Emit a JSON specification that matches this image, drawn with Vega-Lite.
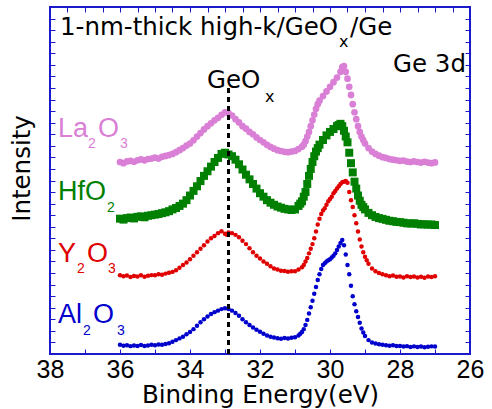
{
  "$schema": "https://vega.github.io/schema/vega-lite/v6.json",
  "width": 420,
  "height": 347,
  "autosize": {"type": "none"},
  "padding": {"left": 50, "top": 7, "right": 22, "bottom": 55},
  "background": "white",
  "config": {
    "view": {"stroke": "#1A1ACC", "strokeWidth": 2},
    "axis": {"domain": false, "grid": false, "tickColor": "#1A1ACC", "tickWidth": 1, "tickSize": -5}
  },
  "datasets": {
    "spectra": [
      {"s":"La2O3","e":36.0,"v":16.6},{"s":"La2O3","e":35.9,"v":16.5},{"s":"La2O3","e":35.8,"v":16.65},{"s":"La2O3","e":35.7,"v":16.7},{"s":"La2O3","e":35.6,"v":16.62},{"s":"La2O3","e":35.5,"v":16.75},{"s":"La2O3","e":35.4,"v":16.82},{"s":"La2O3","e":35.3,"v":16.74},{"s":"La2O3","e":35.2,"v":16.86},{"s":"La2O3","e":35.1,"v":16.9},{"s":"La2O3","e":35.0,"v":16.97},{"s":"La2O3","e":34.9,"v":16.9},{"s":"La2O3","e":34.8,"v":17.05},{"s":"La2O3","e":34.7,"v":17.12},{"s":"La2O3","e":34.6,"v":17.2},{"s":"La2O3","e":34.5,"v":17.3},{"s":"La2O3","e":34.4,"v":17.45},{"s":"La2O3","e":34.3,"v":17.62},{"s":"La2O3","e":34.2,"v":17.8},{"s":"La2O3","e":34.1,"v":18.02},{"s":"La2O3","e":34.0,"v":18.2},{"s":"La2O3","e":33.9,"v":18.48},{"s":"La2O3","e":33.8,"v":18.8},{"s":"La2O3","e":33.7,"v":19.1},{"s":"La2O3","e":33.6,"v":19.42},{"s":"La2O3","e":33.5,"v":19.7},{"s":"La2O3","e":33.4,"v":19.95},{"s":"La2O3","e":33.3,"v":20.2},{"s":"La2O3","e":33.2,"v":20.42},{"s":"La2O3","e":33.1,"v":20.68},{"s":"La2O3","e":33.0,"v":20.9},{"s":"La2O3","e":32.9,"v":20.82},{"s":"La2O3","e":32.8,"v":20.62},{"s":"La2O3","e":32.7,"v":20.3},{"s":"La2O3","e":32.6,"v":20.02},{"s":"La2O3","e":32.5,"v":19.7},{"s":"La2O3","e":32.4,"v":19.48},{"s":"La2O3","e":32.3,"v":19.2},{"s":"La2O3","e":32.2,"v":19.0},{"s":"La2O3","e":32.1,"v":18.72},{"s":"La2O3","e":32.0,"v":18.5},{"s":"La2O3","e":31.9,"v":18.3},{"s":"La2O3","e":31.8,"v":18.08},{"s":"La2O3","e":31.7,"v":17.9},{"s":"La2O3","e":31.6,"v":17.75},{"s":"La2O3","e":31.5,"v":17.62},{"s":"La2O3","e":31.4,"v":17.55},{"s":"La2O3","e":31.3,"v":17.48},{"s":"La2O3","e":31.2,"v":17.45},{"s":"La2O3","e":31.1,"v":17.5},{"s":"La2O3","e":31.0,"v":17.56},{"s":"La2O3","e":30.9,"v":17.72},{"s":"La2O3","e":30.8,"v":17.92},{"s":"La2O3","e":30.75,"v":18.1},{"s":"La2O3","e":30.7,"v":18.4},{"s":"La2O3","e":30.65,"v":18.8},{"s":"La2O3","e":30.6,"v":19.2},{"s":"La2O3","e":30.55,"v":19.7},{"s":"La2O3","e":30.5,"v":20.2},{"s":"La2O3","e":30.45,"v":20.7},{"s":"La2O3","e":30.4,"v":21.2},{"s":"La2O3","e":30.35,"v":21.6},{"s":"La2O3","e":30.3,"v":21.9},{"s":"La2O3","e":30.2,"v":22.3},{"s":"La2O3","e":30.1,"v":22.7},{"s":"La2O3","e":30.0,"v":23.1},{"s":"La2O3","e":29.9,"v":23.5},{"s":"La2O3","e":29.8,"v":23.9},{"s":"La2O3","e":29.7,"v":24.4},{"s":"La2O3","e":29.65,"v":24.8},{"s":"La2O3","e":29.6,"v":24.9},{"s":"La2O3","e":29.55,"v":24.4},{"s":"La2O3","e":29.5,"v":23.8},{"s":"La2O3","e":29.45,"v":23.1},{"s":"La2O3","e":29.4,"v":22.4},{"s":"La2O3","e":29.35,"v":21.6},{"s":"La2O3","e":29.3,"v":20.9},{"s":"La2O3","e":29.25,"v":20.3},{"s":"La2O3","e":29.2,"v":19.7},{"s":"La2O3","e":29.15,"v":19.2},{"s":"La2O3","e":29.1,"v":18.8},{"s":"La2O3","e":29.05,"v":18.5},{"s":"La2O3","e":29.0,"v":18.2},{"s":"La2O3","e":28.9,"v":17.8},{"s":"La2O3","e":28.8,"v":17.5},{"s":"La2O3","e":28.7,"v":17.3},{"s":"La2O3","e":28.6,"v":17.15},{"s":"La2O3","e":28.5,"v":17.02},{"s":"La2O3","e":28.4,"v":16.95},{"s":"La2O3","e":28.3,"v":16.85},{"s":"La2O3","e":28.2,"v":16.8},{"s":"La2O3","e":28.1,"v":16.75},{"s":"La2O3","e":28.0,"v":16.7},{"s":"La2O3","e":27.9,"v":16.72},{"s":"La2O3","e":27.8,"v":16.64},{"s":"La2O3","e":27.7,"v":16.6},{"s":"La2O3","e":27.6,"v":16.66},{"s":"La2O3","e":27.5,"v":16.6},{"s":"La2O3","e":27.4,"v":16.55},{"s":"La2O3","e":27.3,"v":16.62},{"s":"La2O3","e":27.2,"v":16.55},{"s":"La2O3","e":27.1,"v":16.5},{"s":"La2O3","e":27.0,"v":16.56},
      {"s":"HfO2","e":36.0,"v":11.7},{"s":"HfO2","e":35.9,"v":11.62},{"s":"HfO2","e":35.8,"v":11.75},{"s":"HfO2","e":35.7,"v":11.8},{"s":"HfO2","e":35.6,"v":11.72},{"s":"HfO2","e":35.5,"v":11.86},{"s":"HfO2","e":35.4,"v":11.9},{"s":"HfO2","e":35.3,"v":11.82},{"s":"HfO2","e":35.2,"v":11.95},{"s":"HfO2","e":35.1,"v":12.0},{"s":"HfO2","e":35.0,"v":12.05},{"s":"HfO2","e":34.9,"v":12.1},{"s":"HfO2","e":34.8,"v":12.18},{"s":"HfO2","e":34.7,"v":12.25},{"s":"HfO2","e":34.6,"v":12.35},{"s":"HfO2","e":34.5,"v":12.5},{"s":"HfO2","e":34.4,"v":12.62},{"s":"HfO2","e":34.3,"v":12.8},{"s":"HfO2","e":34.2,"v":13.0},{"s":"HfO2","e":34.1,"v":13.3},{"s":"HfO2","e":34.0,"v":13.7},{"s":"HfO2","e":33.9,"v":14.1},{"s":"HfO2","e":33.8,"v":14.5},{"s":"HfO2","e":33.7,"v":14.95},{"s":"HfO2","e":33.6,"v":15.4},{"s":"HfO2","e":33.5,"v":15.8},{"s":"HfO2","e":33.4,"v":16.2},{"s":"HfO2","e":33.3,"v":16.6},{"s":"HfO2","e":33.2,"v":16.95},{"s":"HfO2","e":33.1,"v":17.3},{"s":"HfO2","e":33.0,"v":17.4},{"s":"HfO2","e":32.9,"v":17.25},{"s":"HfO2","e":32.8,"v":17.1},{"s":"HfO2","e":32.7,"v":16.8},{"s":"HfO2","e":32.6,"v":16.4},{"s":"HfO2","e":32.5,"v":15.95},{"s":"HfO2","e":32.4,"v":15.5},{"s":"HfO2","e":32.3,"v":15.1},{"s":"HfO2","e":32.2,"v":14.7},{"s":"HfO2","e":32.1,"v":14.3},{"s":"HfO2","e":32.0,"v":13.9},{"s":"HfO2","e":31.9,"v":13.6},{"s":"HfO2","e":31.8,"v":13.3},{"s":"HfO2","e":31.7,"v":13.08},{"s":"HfO2","e":31.6,"v":12.9},{"s":"HfO2","e":31.5,"v":12.75},{"s":"HfO2","e":31.4,"v":12.65},{"s":"HfO2","e":31.3,"v":12.55},{"s":"HfO2","e":31.2,"v":12.5},{"s":"HfO2","e":31.1,"v":12.45},{"s":"HfO2","e":31.0,"v":12.5},{"s":"HfO2","e":30.9,"v":12.8},{"s":"HfO2","e":30.85,"v":13.0},{"s":"HfO2","e":30.8,"v":13.2},{"s":"HfO2","e":30.75,"v":13.6},{"s":"HfO2","e":30.7,"v":14.0},{"s":"HfO2","e":30.65,"v":14.7},{"s":"HfO2","e":30.6,"v":15.4},{"s":"HfO2","e":30.55,"v":16.0},{"s":"HfO2","e":30.5,"v":16.6},{"s":"HfO2","e":30.45,"v":17.1},{"s":"HfO2","e":30.4,"v":17.5},{"s":"HfO2","e":30.35,"v":17.8},{"s":"HfO2","e":30.3,"v":18.1},{"s":"HfO2","e":30.2,"v":18.5},{"s":"HfO2","e":30.1,"v":18.9},{"s":"HfO2","e":30.0,"v":19.2},{"s":"HfO2","e":29.9,"v":19.45},{"s":"HfO2","e":29.8,"v":19.7},{"s":"HfO2","e":29.75,"v":19.8},{"s":"HfO2","e":29.7,"v":19.9},{"s":"HfO2","e":29.65,"v":19.7},{"s":"HfO2","e":29.6,"v":19.3},{"s":"HfO2","e":29.55,"v":18.8},{"s":"HfO2","e":29.5,"v":18.3},{"s":"HfO2","e":29.45,"v":17.4},{"s":"HfO2","e":29.4,"v":16.5},{"s":"HfO2","e":29.35,"v":15.7},{"s":"HfO2","e":29.3,"v":14.9},{"s":"HfO2","e":29.25,"v":14.3},{"s":"HfO2","e":29.2,"v":13.7},{"s":"HfO2","e":29.15,"v":13.25},{"s":"HfO2","e":29.1,"v":12.9},{"s":"HfO2","e":29.05,"v":12.7},{"s":"HfO2","e":29.0,"v":12.5},{"s":"HfO2","e":28.9,"v":12.2},{"s":"HfO2","e":28.8,"v":12.0},{"s":"HfO2","e":28.7,"v":11.85},{"s":"HfO2","e":28.6,"v":11.75},{"s":"HfO2","e":28.5,"v":11.68},{"s":"HfO2","e":28.4,"v":11.6},{"s":"HfO2","e":28.3,"v":11.52},{"s":"HfO2","e":28.2,"v":11.48},{"s":"HfO2","e":28.1,"v":11.42},{"s":"HfO2","e":28.0,"v":11.4},{"s":"HfO2","e":27.9,"v":11.35},{"s":"HfO2","e":27.8,"v":11.3},{"s":"HfO2","e":27.7,"v":11.28},{"s":"HfO2","e":27.6,"v":11.3},{"s":"HfO2","e":27.5,"v":11.25},{"s":"HfO2","e":27.4,"v":11.2},{"s":"HfO2","e":27.3,"v":11.22},{"s":"HfO2","e":27.2,"v":11.18},{"s":"HfO2","e":27.1,"v":11.2},{"s":"HfO2","e":27.0,"v":11.15},
      {"s":"Y2O3","e":36.0,"v":6.8},{"s":"Y2O3","e":35.9,"v":6.72},{"s":"Y2O3","e":35.8,"v":6.78},{"s":"Y2O3","e":35.7,"v":6.65},{"s":"Y2O3","e":35.6,"v":6.74},{"s":"Y2O3","e":35.5,"v":6.7},{"s":"Y2O3","e":35.4,"v":6.8},{"s":"Y2O3","e":35.3,"v":6.68},{"s":"Y2O3","e":35.2,"v":6.76},{"s":"Y2O3","e":35.1,"v":6.82},{"s":"Y2O3","e":35.0,"v":6.8},{"s":"Y2O3","e":34.9,"v":6.9},{"s":"Y2O3","e":34.8,"v":6.85},{"s":"Y2O3","e":34.7,"v":6.95},{"s":"Y2O3","e":34.6,"v":7.02},{"s":"Y2O3","e":34.5,"v":7.1},{"s":"Y2O3","e":34.4,"v":7.25},{"s":"Y2O3","e":34.3,"v":7.45},{"s":"Y2O3","e":34.2,"v":7.7},{"s":"Y2O3","e":34.1,"v":7.92},{"s":"Y2O3","e":34.0,"v":8.2},{"s":"Y2O3","e":33.9,"v":8.5},{"s":"Y2O3","e":33.8,"v":8.8},{"s":"Y2O3","e":33.7,"v":9.1},{"s":"Y2O3","e":33.6,"v":9.4},{"s":"Y2O3","e":33.5,"v":9.72},{"s":"Y2O3","e":33.4,"v":10.0},{"s":"Y2O3","e":33.3,"v":10.2},{"s":"Y2O3","e":33.2,"v":10.45},{"s":"Y2O3","e":33.1,"v":10.62},{"s":"Y2O3","e":33.0,"v":10.4},{"s":"Y2O3","e":32.95,"v":10.3},{"s":"Y2O3","e":32.9,"v":10.5},{"s":"Y2O3","e":32.8,"v":10.45},{"s":"Y2O3","e":32.7,"v":10.3},{"s":"Y2O3","e":32.6,"v":10.1},{"s":"Y2O3","e":32.5,"v":9.8},{"s":"Y2O3","e":32.4,"v":9.5},{"s":"Y2O3","e":32.3,"v":9.15},{"s":"Y2O3","e":32.2,"v":8.8},{"s":"Y2O3","e":32.1,"v":8.5},{"s":"Y2O3","e":32.0,"v":8.25},{"s":"Y2O3","e":31.9,"v":8.0},{"s":"Y2O3","e":31.8,"v":7.8},{"s":"Y2O3","e":31.7,"v":7.58},{"s":"Y2O3","e":31.6,"v":7.4},{"s":"Y2O3","e":31.5,"v":7.3},{"s":"Y2O3","e":31.4,"v":7.2},{"s":"Y2O3","e":31.3,"v":7.18},{"s":"Y2O3","e":31.2,"v":7.12},{"s":"Y2O3","e":31.1,"v":7.16},{"s":"Y2O3","e":31.0,"v":7.15},{"s":"Y2O3","e":30.9,"v":7.3},{"s":"Y2O3","e":30.8,"v":7.5},{"s":"Y2O3","e":30.75,"v":7.7},{"s":"Y2O3","e":30.7,"v":8.0},{"s":"Y2O3","e":30.65,"v":8.3},{"s":"Y2O3","e":30.6,"v":8.7},{"s":"Y2O3","e":30.55,"v":9.1},{"s":"Y2O3","e":30.5,"v":9.5},{"s":"Y2O3","e":30.45,"v":10.0},{"s":"Y2O3","e":30.4,"v":10.6},{"s":"Y2O3","e":30.35,"v":11.2},{"s":"Y2O3","e":30.3,"v":11.7},{"s":"Y2O3","e":30.25,"v":12.1},{"s":"Y2O3","e":30.2,"v":12.4},{"s":"Y2O3","e":30.15,"v":12.6},{"s":"Y2O3","e":30.1,"v":12.9},{"s":"Y2O3","e":30.05,"v":13.2},{"s":"Y2O3","e":30.0,"v":13.4},{"s":"Y2O3","e":29.95,"v":13.6},{"s":"Y2O3","e":29.9,"v":13.9},{"s":"Y2O3","e":29.85,"v":14.1},{"s":"Y2O3","e":29.8,"v":14.3},{"s":"Y2O3","e":29.75,"v":14.5},{"s":"Y2O3","e":29.7,"v":14.7},{"s":"Y2O3","e":29.65,"v":14.85},{"s":"Y2O3","e":29.6,"v":14.9},{"s":"Y2O3","e":29.55,"v":14.95},{"s":"Y2O3","e":29.5,"v":14.8},{"s":"Y2O3","e":29.45,"v":14.0},{"s":"Y2O3","e":29.4,"v":13.3},{"s":"Y2O3","e":29.35,"v":12.7},{"s":"Y2O3","e":29.3,"v":12.0},{"s":"Y2O3","e":29.25,"v":11.3},{"s":"Y2O3","e":29.2,"v":10.6},{"s":"Y2O3","e":29.15,"v":9.9},{"s":"Y2O3","e":29.1,"v":9.3},{"s":"Y2O3","e":29.05,"v":8.8},{"s":"Y2O3","e":29.0,"v":8.4},{"s":"Y2O3","e":28.95,"v":8.1},{"s":"Y2O3","e":28.9,"v":7.8},{"s":"Y2O3","e":28.8,"v":7.4},{"s":"Y2O3","e":28.7,"v":7.15},{"s":"Y2O3","e":28.6,"v":7.0},{"s":"Y2O3","e":28.5,"v":6.9},{"s":"Y2O3","e":28.4,"v":6.8},{"s":"Y2O3","e":28.3,"v":6.72},{"s":"Y2O3","e":28.2,"v":6.78},{"s":"Y2O3","e":28.1,"v":6.68},{"s":"Y2O3","e":28.0,"v":6.7},{"s":"Y2O3","e":27.9,"v":6.62},{"s":"Y2O3","e":27.8,"v":6.72},{"s":"Y2O3","e":27.7,"v":6.65},{"s":"Y2O3","e":27.6,"v":6.7},{"s":"Y2O3","e":27.5,"v":6.62},{"s":"Y2O3","e":27.4,"v":6.68},{"s":"Y2O3","e":27.3,"v":6.6},{"s":"Y2O3","e":27.2,"v":6.7},{"s":"Y2O3","e":27.1,"v":6.66},{"s":"Y2O3","e":27.0,"v":6.72},
      {"s":"Al2O3","e":36.0,"v":0.8},{"s":"Al2O3","e":35.9,"v":0.72},{"s":"Al2O3","e":35.8,"v":0.76},{"s":"Al2O3","e":35.7,"v":0.68},{"s":"Al2O3","e":35.6,"v":0.74},{"s":"Al2O3","e":35.5,"v":0.7},{"s":"Al2O3","e":35.4,"v":0.78},{"s":"Al2O3","e":35.3,"v":0.7},{"s":"Al2O3","e":35.2,"v":0.74},{"s":"Al2O3","e":35.1,"v":0.8},{"s":"Al2O3","e":35.0,"v":0.75},{"s":"Al2O3","e":34.9,"v":0.82},{"s":"Al2O3","e":34.8,"v":0.8},{"s":"Al2O3","e":34.7,"v":0.86},{"s":"Al2O3","e":34.6,"v":0.92},{"s":"Al2O3","e":34.5,"v":1.05},{"s":"Al2O3","e":34.4,"v":1.2},{"s":"Al2O3","e":34.3,"v":1.35},{"s":"Al2O3","e":34.2,"v":1.5},{"s":"Al2O3","e":34.1,"v":1.7},{"s":"Al2O3","e":34.0,"v":1.9},{"s":"Al2O3","e":33.9,"v":2.15},{"s":"Al2O3","e":33.8,"v":2.45},{"s":"Al2O3","e":33.7,"v":2.75},{"s":"Al2O3","e":33.6,"v":3.0},{"s":"Al2O3","e":33.5,"v":3.25},{"s":"Al2O3","e":33.4,"v":3.45},{"s":"Al2O3","e":33.3,"v":3.62},{"s":"Al2O3","e":33.2,"v":3.75},{"s":"Al2O3","e":33.1,"v":3.88},{"s":"Al2O3","e":33.0,"v":3.95},{"s":"Al2O3","e":32.9,"v":3.9},{"s":"Al2O3","e":32.8,"v":3.75},{"s":"Al2O3","e":32.7,"v":3.55},{"s":"Al2O3","e":32.6,"v":3.3},{"s":"Al2O3","e":32.5,"v":3.0},{"s":"Al2O3","e":32.4,"v":2.75},{"s":"Al2O3","e":32.3,"v":2.5},{"s":"Al2O3","e":32.2,"v":2.3},{"s":"Al2O3","e":32.1,"v":2.1},{"s":"Al2O3","e":32.0,"v":1.92},{"s":"Al2O3","e":31.9,"v":1.75},{"s":"Al2O3","e":31.8,"v":1.6},{"s":"Al2O3","e":31.7,"v":1.5},{"s":"Al2O3","e":31.6,"v":1.42},{"s":"Al2O3","e":31.5,"v":1.36},{"s":"Al2O3","e":31.4,"v":1.32},{"s":"Al2O3","e":31.3,"v":1.38},{"s":"Al2O3","e":31.2,"v":1.34},{"s":"Al2O3","e":31.1,"v":1.4},{"s":"Al2O3","e":31.0,"v":1.45},{"s":"Al2O3","e":30.9,"v":1.6},{"s":"Al2O3","e":30.85,"v":1.75},{"s":"Al2O3","e":30.8,"v":1.9},{"s":"Al2O3","e":30.75,"v":2.15},{"s":"Al2O3","e":30.7,"v":2.5},{"s":"Al2O3","e":30.65,"v":2.95},{"s":"Al2O3","e":30.6,"v":3.5},{"s":"Al2O3","e":30.55,"v":4.05},{"s":"Al2O3","e":30.5,"v":4.6},{"s":"Al2O3","e":30.45,"v":5.2},{"s":"Al2O3","e":30.4,"v":5.8},{"s":"Al2O3","e":30.35,"v":6.4},{"s":"Al2O3","e":30.3,"v":6.9},{"s":"Al2O3","e":30.25,"v":7.35},{"s":"Al2O3","e":30.2,"v":7.7},{"s":"Al2O3","e":30.15,"v":7.85},{"s":"Al2O3","e":30.1,"v":8.0},{"s":"Al2O3","e":30.05,"v":8.1},{"s":"Al2O3","e":30.0,"v":8.2},{"s":"Al2O3","e":29.95,"v":8.35},{"s":"Al2O3","e":29.9,"v":8.5},{"s":"Al2O3","e":29.85,"v":8.7},{"s":"Al2O3","e":29.8,"v":9.0},{"s":"Al2O3","e":29.75,"v":9.3},{"s":"Al2O3","e":29.7,"v":9.6},{"s":"Al2O3","e":29.65,"v":9.85},{"s":"Al2O3","e":29.6,"v":9.4},{"s":"Al2O3","e":29.55,"v":8.6},{"s":"Al2O3","e":29.5,"v":7.7},{"s":"Al2O3","e":29.45,"v":6.9},{"s":"Al2O3","e":29.4,"v":5.9},{"s":"Al2O3","e":29.35,"v":5.0},{"s":"Al2O3","e":29.3,"v":4.3},{"s":"Al2O3","e":29.25,"v":3.7},{"s":"Al2O3","e":29.2,"v":3.2},{"s":"Al2O3","e":29.15,"v":2.7},{"s":"Al2O3","e":29.1,"v":2.2},{"s":"Al2O3","e":29.05,"v":1.85},{"s":"Al2O3","e":29.0,"v":1.55},{"s":"Al2O3","e":28.9,"v":1.2},{"s":"Al2O3","e":28.8,"v":1.0},{"s":"Al2O3","e":28.7,"v":0.9},{"s":"Al2O3","e":28.6,"v":0.85},{"s":"Al2O3","e":28.5,"v":0.8},{"s":"Al2O3","e":28.4,"v":0.75},{"s":"Al2O3","e":28.3,"v":0.72},{"s":"Al2O3","e":28.2,"v":0.76},{"s":"Al2O3","e":28.1,"v":0.7},{"s":"Al2O3","e":28.0,"v":0.7},{"s":"Al2O3","e":27.9,"v":0.64},{"s":"Al2O3","e":27.8,"v":0.68},{"s":"Al2O3","e":27.7,"v":0.6},{"s":"Al2O3","e":27.6,"v":0.66},{"s":"Al2O3","e":27.5,"v":0.6},{"s":"Al2O3","e":27.4,"v":0.64},{"s":"Al2O3","e":27.3,"v":0.58},{"s":"Al2O3","e":27.2,"v":0.62},{"s":"Al2O3","e":27.1,"v":0.66},{"s":"Al2O3","e":27.0,"v":0.65}
    ],
    "labels": [
      {"s":"La2O3","t":"La","e":37.771,"v":18.76},
      {"s":"La2O3","t":"O","e":36.629,"v":18.76},
      {"s":"HfO2","t":"HfO","e":37.771,"v":13.31},
      {"s":"Y2O3","t":"Y","e":37.771,"v":7.95},
      {"s":"Y2O3","t":"O","e":36.943,"v":7.95},
      {"s":"Al2O3","t":"Al","e":37.771,"v":2.68},
      {"s":"Al2O3","t":"O","e":36.771,"v":2.68}
    ],
    "subs": [
      {"s":"La2O3","t":"2","e":36.914,"v":17.8},
      {"s":"La2O3","t":"3","e":36.0,"v":17.8},
      {"s":"HfO2","t":"2","e":36.371,"v":12.27},
      {"s":"Y2O3","t":"2","e":37.229,"v":7.0},
      {"s":"Y2O3","t":"3","e":36.343,"v":7.0},
      {"s":"Al2O3","t":"2","e":37.057,"v":1.64},
      {"s":"Al2O3","t":"3","e":36.086,"v":1.64}
    ],
    "notes": [
      {"t":"1-nm-thick high-k/GeO","e":37.714,"v":27.57},
      {"t":"/Ge","e":29.43,"v":27.57},
      {"t":"Ge 3d","e":28.2,"v":24.37},
      {"t":"GeO","e":33.514,"v":22.99}
    ],
    "notesubs": [
      {"t":"x","e":29.743,"v":26.53},
      {"t":"x","e":31.857,"v":21.78}
    ],
    "marker": [
      {"e":32.9,"v":0,"v2":23.1}
    ]
  },
  "resolve": {"axis": {"x": "independent", "y": "independent"}},
  "layer": [
    {
      "data": {"name": "spectra"},
      "transform": [{"filter": "datum.s === 'HfO2'"}],
      "mark": {"type": "point", "shape": "square", "filled": true, "size": 64, "color": "#008000", "opacity": 1},
      "encoding": {
        "x": {"field": "e", "type": "quantitative", "scale": {"domain": [26, 38], "reverse": true, "nice": false, "zero": false},
          "axis": {"orient": "bottom", "values": [38,37.5,37,36.5,36,35.5,35,34.5,34,33.5,33,32.5,32,31.5,31,30.5,30,29.5,29,28.5,28,27.5,27,26.5,26],
            "labelExpr": "datum.value % 2 === 0 ? datum.label : ''", "format": "d",
            "labelFont": "Liberation Sans", "labelFontSize": 25, "labelColor": "black", "labelPadding": 8,
            "labelOverlap": false, "labelFlush": false, "labelBound": false,
            "title": "Binding Energy(eV)", "titleFont": "DejaVu Sans", "titleFontSize": 24.5, "titleFontWeight": "normal", "titleColor": "black", "titlePadding": 1}},
        "y": {"field": "v", "type": "quantitative", "scale": {"domain": [0, 30], "nice": false, "zero": false},
          "axis": {"orient": "left", "values": [0,1,2,3,4,5,6,7,8,9,10,11,12,13,14,15,16,17,18,19,20,21,22,23,24,25,26,27,28,29,30],
            "labels": false, "title": "Intensity", "titleFont": "DejaVu Sans", "titleFontSize": 24.5, "titleFontWeight": "normal", "titleColor": "black", "titlePadding": 15, "titleY": 161}}
      }
    },
    {
      "data": {"name": "spectra"},
      "transform": [{"filter": "datum.s === 'La2O3'"}],
      "mark": {"type": "point", "shape": "circle", "filled": true, "size": 45, "color": "#DA7FD6", "opacity": 1},
      "encoding": {
        "x": {"field": "e", "type": "quantitative", "axis": null},
        "y": {"field": "v", "type": "quantitative", "axis": null}
      }
    },
    {
      "data": {"name": "spectra"},
      "transform": [{"filter": "datum.s === 'Y2O3'"}],
      "mark": {"type": "point", "shape": "circle", "filled": true, "size": 20, "color": "#E00000", "opacity": 1},
      "encoding": {
        "x": {"field": "e", "type": "quantitative", "axis": null},
        "y": {"field": "v", "type": "quantitative", "axis": null}
      }
    },
    {
      "data": {"name": "spectra"},
      "transform": [{"filter": "datum.s === 'Al2O3'"}],
      "mark": {"type": "point", "shape": "circle", "filled": true, "size": 20, "color": "#0000CC", "opacity": 1},
      "encoding": {
        "x": {"field": "e", "type": "quantitative", "axis": null},
        "y": {"field": "v", "type": "quantitative", "axis": null}
      }
    },
    {
      "data": {"name": "labels"},
      "mark": {"type": "text", "align": "left", "baseline": "alphabetic", "font": "Liberation Sans", "fontSize": 27},
      "encoding": {
        "x": {"field": "e", "type": "quantitative", "axis": null},
        "y": {"field": "v", "type": "quantitative", "axis": null},
        "text": {"field": "t"},
        "color": {"field": "s", "type": "nominal", "legend": null,
          "scale": {"domain": ["La2O3", "HfO2", "Y2O3", "Al2O3"], "range": ["#DA7FD6", "#008000", "#E00000", "#0000CC"]}}
      }
    },
    {
      "data": {"name": "subs"},
      "mark": {"type": "text", "align": "left", "baseline": "alphabetic", "font": "Liberation Sans", "fontSize": 14},
      "encoding": {
        "x": {"field": "e", "type": "quantitative", "axis": null},
        "y": {"field": "v", "type": "quantitative", "axis": null},
        "text": {"field": "t"},
        "color": {"field": "s", "type": "nominal", "legend": null}
      }
    },
    {
      "data": {"name": "notes"},
      "mark": {"type": "text", "align": "left", "baseline": "alphabetic", "font": "DejaVu Sans", "fontSize": 24.5, "color": "black"},
      "encoding": {
        "x": {"field": "e", "type": "quantitative", "axis": null},
        "y": {"field": "v", "type": "quantitative", "axis": null},
        "text": {"field": "t"}
      }
    },
    {
      "data": {"name": "notesubs"},
      "mark": {"type": "text", "align": "left", "baseline": "alphabetic", "font": "DejaVu Sans", "fontSize": 16, "color": "black"},
      "encoding": {
        "x": {"field": "e", "type": "quantitative", "axis": null},
        "y": {"field": "v", "type": "quantitative", "axis": null},
        "text": {"field": "t"}
      }
    },
    {
      "data": {"name": "marker"},
      "mark": {"type": "rule", "color": "black", "strokeWidth": 3, "strokeDash": [5, 4]},
      "encoding": {
        "x": {"field": "e", "type": "quantitative",
          "axis": {"orient": "top", "values": [38,37.5,37,36.5,36,35.5,35,34.5,34,33.5,33,32.5,32,31.5,31,30.5,30,29.5,29,28.5,28,27.5,27,26.5,26], "labels": false, "title": null}},
        "y": {"field": "v", "type": "quantitative",
          "axis": {"orient": "right", "values": [0,1,2,3,4,5,6,7,8,9,10,11,12,13,14,15,16,17,18,19,20,21,22,23,24,25,26,27,28,29,30], "labels": false, "title": null}},
        "y2": {"field": "v2"}
      }
    }
  ]
}
